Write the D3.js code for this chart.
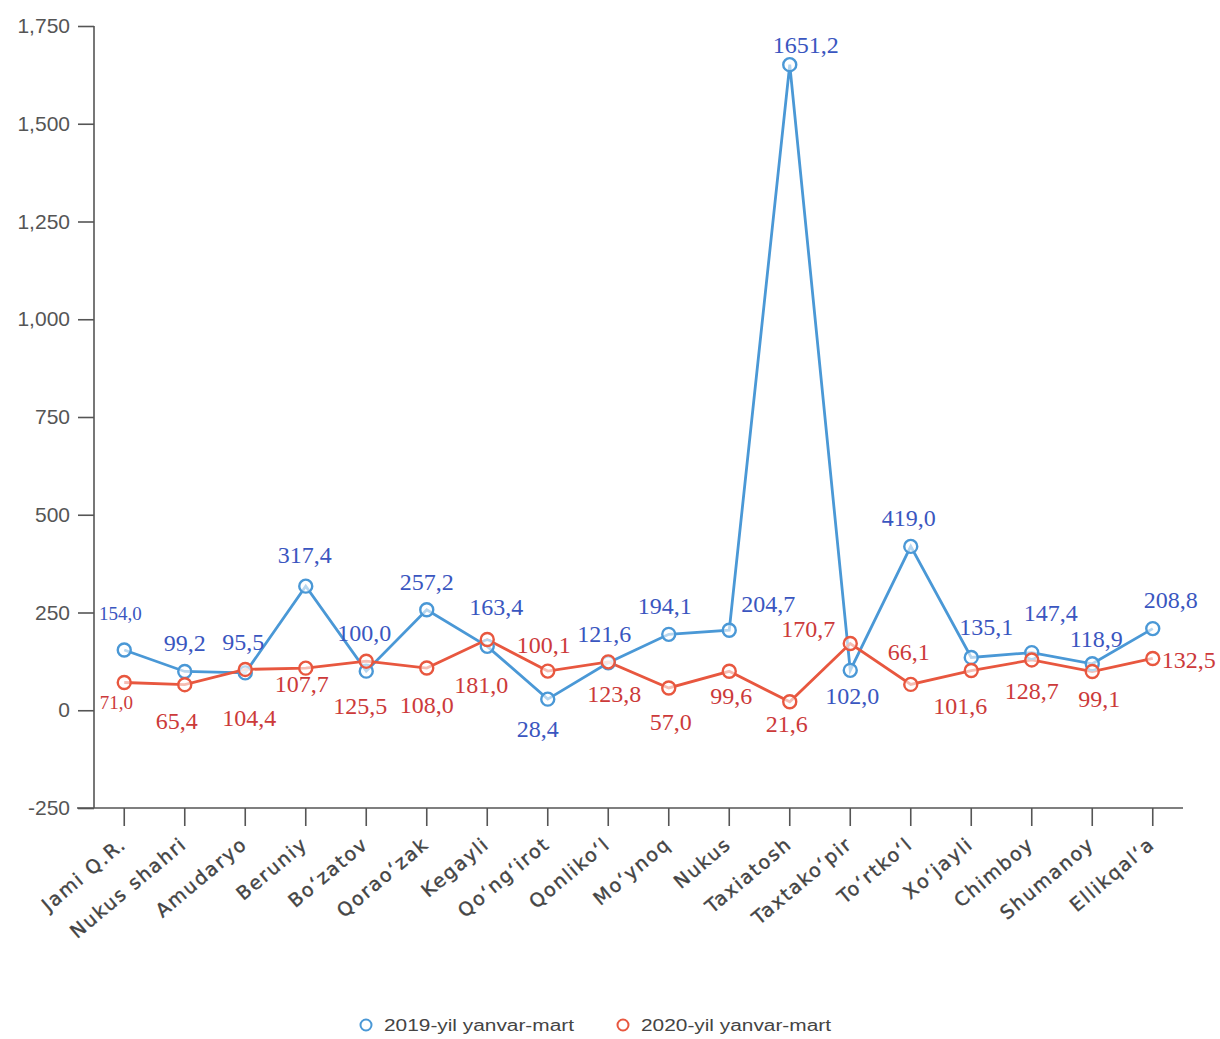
<!DOCTYPE html>
<html><head><meta charset="utf-8">
<script src="https://cdn.jsdelivr.net/npm/d3@7"></script>
<style>body{margin:0;background:#fff}</style>
</head><body>
<svg id="c" width="1220" height="1039"></svg>
<script>
const categories = ["Jami Q.R.","Nukus shahri","Amudaryo","Beruniy","Bo\u02bbzatov","Qorao\u02bbzak","Kegayli","Qo\u02bbng\u02bbirot","Qonliko\u02bbl","Mo\u02bbynoq","Nukus","Taxiatosh","Taxtako\u02bbpir","To\u02bbrtko\u02bbl","Xo\u02bbjayli","Chimboy","Shumanoy","Ellikqal\u02bba"];
const values2019 = [154.0,99.2,95.5,317.4,100.0,257.2,163.4,28.4,121.6,194.1,204.7,1651.2,102.0,419.0,135.1,147.4,118.9,208.8];
const values2020 = [71.0,65.4,104.4,107.7,125.5,108.0,181.0,100.1,123.8,57.0,99.6,21.6,170.7,66.1,101.6,128.7,99.1,132.5];
const seriesNames = ["2019-yil yanvar-mart","2020-yil yanvar-mart"];
const yTicks = [-250,0,250,500,750,1000,1250,1500,1750];

// label placement (layout only)
const off2019 = [[-4,-37],[0,-28],[-2,-31],[-1,-31],[-2,-38],[0,-28],[9,-39],[-10,30],[-4,-29],[-4,-28],[39,-26],[16,-20],[2,26],[-2,-28],[15,-30],[19,-40],[4,-25],[18,-29]];
const off2020 = [[-8,20],[-8,36],[4,49],[-4,16],[-6,45],[0,37],[-6,46],[-4,-26],[6,32],[2,34],[2,25],[-3,22],[-42,-15],[-2,-32],[-11,35],[0,31],[7,27],[36,2]];

const svg = d3.select("#c");
const m = {l:94, r:1183, t:26, b:808};
const x = d3.scaleBand().domain(categories).range([m.l, m.r]);
const y = d3.scaleLinear().domain([-250,1750]).range([m.b, m.t]);
const cx = d => x(d) + x.bandwidth()/2;

const colors = {line:["#4a98d6","#e8573f"], text:["#3a56c0","#cc3a3a"]};
const fmtY = v => d3.format(",")(v).replace("\u2212","-");

// y axis
const ya = svg.append("g").attr("transform",`translate(${m.l},0)`)
  .call(d3.axisLeft(y).tickValues(yTicks).tickFormat(fmtY).tickSize(16).tickPadding(8));
ya.select(".domain").attr("stroke","#555").attr("stroke-width",1.6).attr("d",`M0,${m.t}V${m.b}`);
ya.selectAll(".tick line").attr("stroke","#555").attr("stroke-width",1.6);
ya.selectAll(".tick text").attr("fill","#555")
  .style("font-family","'Liberation Sans', Arial, sans-serif").style("font-size","21px");

// x axis
const xa = svg.append("g").attr("transform",`translate(0,${m.b})`)
  .call(d3.axisBottom(x).tickSize(18).tickPadding(6));
xa.select(".domain").attr("stroke","#555").attr("stroke-width",1.6).attr("d",`M${m.l-17},0H${m.r}`);
xa.selectAll(".tick line").attr("stroke","#555").attr("stroke-width",1.6);
xa.selectAll(".tick text").attr("fill","#444").attr("stroke","#444").attr("stroke-width",0.4)
  .style("font-family","'DejaVu Sans', Verdana, sans-serif").style("font-size","19px")
  .style("letter-spacing","1.8px")
  .attr("x",0).attr("y",0)
  .attr("text-anchor","end").attr("dy","0.35em")
  .attr("transform","translate(-1,33) rotate(-40)");

const series = [values2019, values2020];
const offs = [off2019, off2020];
const line = d3.line().x((d,i)=>cx(categories[i])).y(d=>y(d));

series.forEach((vals,s)=>{
  svg.append("path").datum(vals).attr("d",line).attr("fill","none")
    .attr("stroke",colors.line[s]).attr("stroke-width",2.8);
});
series.forEach((vals,s)=>{
  svg.append("g").selectAll("circle").data(vals).join("circle")
    .attr("cx",(d,i)=>cx(categories[i])).attr("cy",d=>y(d)).attr("r",6.5)
    .attr("fill","#fff").attr("fill-opacity",0.6).attr("stroke",colors.line[s]).attr("stroke-width",2.4);
});
series.forEach((vals,s)=>{
  svg.append("g").selectAll("text").data(vals).join("text")
    .attr("x",(d,i)=>cx(categories[i])+offs[s][i][0])
    .attr("y",(d,i)=>y(d)+offs[s][i][1])
    .attr("text-anchor","middle").attr("dominant-baseline","central")
    .attr("fill",colors.text[s])
    .style("font-family","'Liberation Serif', 'Times New Roman', serif")
    .style("font-size",(d,i)=> i===0 ? "19px" : "24px")
    .text(d=>d3.format(".1f")(d).replace(".",","));
});

// legend
const lg = svg.append("g");
const legX = [366, 623];
seriesNames.forEach((n,s)=>{
  lg.append("circle").attr("cx",legX[s]).attr("cy",1025).attr("r",5.5)
    .attr("fill","#fff").attr("stroke",colors.line[s]).attr("stroke-width",2);
  lg.append("text").attr("x",legX[s]+18).attr("y",1025).attr("dominant-baseline","central")
    .attr("fill","#444").style("font","16px 'Liberation Sans', Arial, sans-serif")
    .attr("textLength", 190).attr("lengthAdjust","spacingAndGlyphs").text(n);
});
</script>
</body></html>
